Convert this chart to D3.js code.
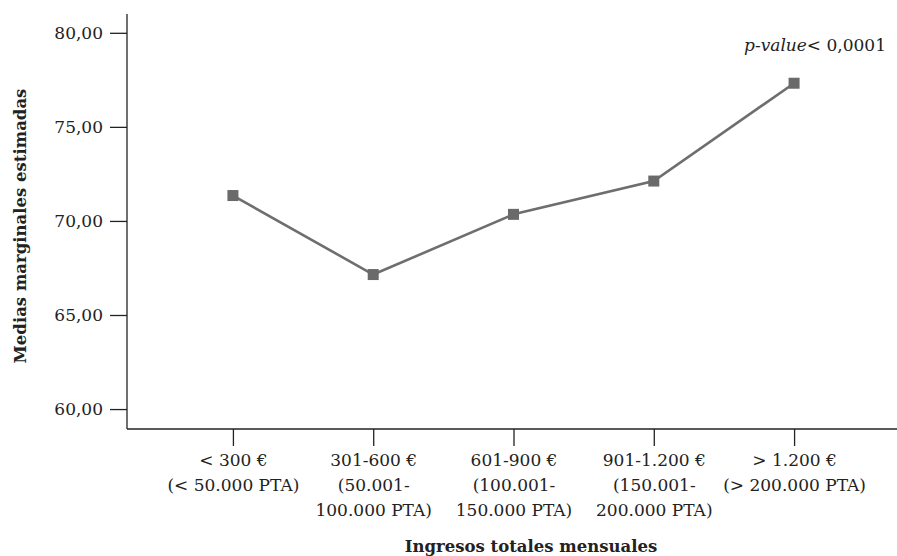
<!DOCTYPE html>
<html><head><meta charset="utf-8">
<script src="https://cdnjs.cloudflare.com/ajax/libs/d3/7.8.5/d3.min.js"></script>
<style>body{margin:0;background:#fff}svg{display:block}svg text{font-family:"DejaVu Serif",serif !important;fill:#222}</style>
</head><body><svg id="c" width="897" height="556"></svg>
<script>
const categories = [
  ["< 300 €", "(< 50.000 PTA)"],
  ["301-600 €", "(50.001-", "100.000 PTA)"],
  ["601-900 €", "(100.001-", "150.000 PTA)"],
  ["901-1.200 €", "(150.001-", "200.000 PTA)"],
  ["> 1.200 €", "(> 200.000 PTA)"]
];
const values = [71.35, 67.15, 70.35, 72.12, 77.32];
const yTicks = [60, 65, 70, 75, 80];
const yTitle = "Medias marginales estimadas";
const xTitle = "Ingresos totales mensuales";
const note = "< 0,0001";

const svg = d3.select("#c");
const x0 = 127, x1 = 900, yTop = 14, yBot = 429;
const keys = categories.map((d, i) => i);
const x = d3.scalePoint().domain(keys).range([x0, x1]).padding(0.755);
const y = d3.scaleLinear().domain([58.94, 81.0]).range([yBot, yTop]);

// y axis
const ya = svg.append("g").attr("transform", `translate(${x0},0)`)
  .call(d3.axisLeft(y).tickValues(yTicks).tickSize(17).tickPadding(7)
    .tickFormat(d => d3.format(".2f")(d).replace(".", ",")));
ya.attr("font-family", null);
ya.select(".domain").attr("d", `M0,${yTop}V${yBot}`).attr("stroke", "#222").attr("stroke-width", 1.3);
ya.selectAll(".tick line").attr("stroke", "#222").attr("stroke-width", 1.3);
ya.selectAll(".tick text").attr("font-size", 17).attr("fill", "#222");

// x axis
const xa = svg.append("g").attr("transform", `translate(0,${yBot})`)
  .call(d3.axisBottom(x).tickSize(17).tickFormat(""));
xa.attr("font-family", null);
xa.select(".domain").attr("d", `M${x0},0H897`).attr("stroke", "#222").attr("stroke-width", 1.3);
xa.selectAll(".tick line").attr("stroke", "#222").attr("stroke-width", 1.3);
xa.selectAll(".tick").each(function(d) {
  const t = d3.select(this).append("text").attr("font-size", 17).attr("fill", "#222")
    .attr("text-anchor", "middle");
  categories[d].forEach((line, j) => {
    t.append("tspan").attr("x", 0).attr("y", 37 + j * 25).text(line);
  });
});

// line
svg.append("path").datum(values)
  .attr("d", d3.line().x((d, i) => x(i)).y(d => y(d)))
  .attr("fill", "none").attr("stroke", "#6e6e6e").attr("stroke-width", 2.6);
svg.selectAll("rect.pt").data(values).join("rect").attr("class", "pt")
  .attr("x", (d, i) => x(i) - 5.5).attr("y", d => y(d) - 5.5)
  .attr("width", 11).attr("height", 11).attr("fill", "#6a6a6a");

// titles
svg.append("text").attr("x", 531).attr("y", 552).attr("text-anchor", "middle")
  .attr("font-size", 16.5).attr("font-weight", "bold").text(xTitle);
svg.append("text").attr("transform", "translate(26,226) rotate(-90)").attr("text-anchor", "middle")
  .attr("font-size", 16.5).attr("font-weight", "bold").text(yTitle);

const nt = svg.append("text").attr("x", 886).attr("y", 51).attr("text-anchor", "end").attr("font-size", 17);
nt.append("tspan").attr("font-style", "italic").text("p-value");
nt.append("tspan").text(note);
</script></body></html>
